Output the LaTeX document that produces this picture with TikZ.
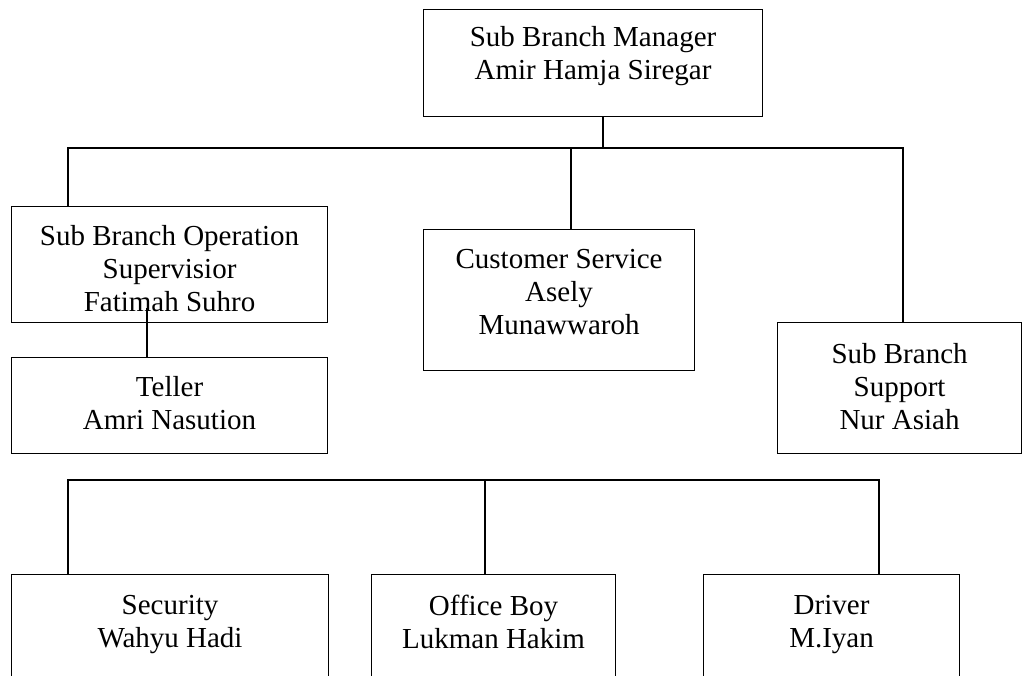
\documentclass[tikz,border=0pt]{standalone}
\usepackage{fontspec}
\setmainfont{Liberation Serif}
\usetikzlibrary{positioning}

\begin{document}
\begin{tikzpicture}[x=1pt, y=-1pt,
    post/.style={rectangle, draw, line width=1.1pt, anchor=north west, inner sep=0pt},
    caption/.style={align=center, inner sep=0pt, font=\fontsize{29}{33}\selectfont},
    link/.style={line width=1.5pt}]
    \path[use as bounding box, clip] (0,0) rectangle (1022,675);

    % boxes
    \node[post, minimum width=339pt, minimum height=107pt] (mgr) at (423,9) {};
    \node[post, minimum width=316pt, minimum height=116pt] (sup) at (11,206) {};
    \node[post, minimum width=316pt, minimum height=96pt] (tel) at (11,357) {};
    \node[post, minimum width=271pt, minimum height=141pt] (cs) at (423,229) {};
    \node[post, minimum width=244pt, minimum height=131pt] (sbs) at (777,322) {};
    \node[post, minimum width=317pt, minimum height=150pt] (sec) at (11,574) {};
    \node[post, minimum width=244pt, minimum height=150pt] (ob) at (371,574) {};
    \node[post, minimum width=256pt, minimum height=150pt] (drv) at (703,574) {};

    % texts
    \node[caption, below=17pt of mgr.north] (mgrtxt) {Sub Branch Manager\\Amir Hamja Siregar};
    \node[caption, below=19pt of sup.north] (suptxt) {Sub Branch Operation\\Supervisior\\Fatimah Suhro};
    \node[caption, below=19pt of tel.north] (teltxt) {Teller\\Amri Nasution};
    \node[caption, below=20pt of cs.north] (cstxt) {Customer Service\\Asely\\Munawwaroh};
    \node[caption, below=21pt of sbs.north] (sbstxt) {Sub Branch\\Support\\Nur Asiah};
    \node[caption, below=21pt of sec.north] (sectxt) {Security\\Wahyu Hadi};
    \node[caption, below=21pt of ob.north] (obtxt) {Office Boy\\Lukman Hakim};
    \node[caption, below=21pt of drv.north] (drvtxt) {Driver\\M.Iyan};

    % junctions
    \coordinate (top) at (603,148);
    \coordinate (left) at (68,148);
    \coordinate (mid) at (571,148);
    \coordinate (right) at (903,148);
    \coordinate (tap) at (147,308);
    \coordinate (bl) at (68,480);
    \coordinate (bm) at (485,480);
    \coordinate (br) at (879,480);

    % connectors
    \draw[link] (mgr.south -| top) -- (top);
    \draw[link] (sup.north -| left) -- (left) -- (right) -- (sbs.north -| right);
    \draw[link] (mid) -- (cs.north -| mid);
    \draw[link] (tap) -- (tel.north -| tap);
    \draw[link] (sec.north -| bl) -- (bl) -- (br) -- (drv.north -| br);
    \draw[link] (bm) -- (ob.north -| bm);
\end{tikzpicture}
\end{document}
